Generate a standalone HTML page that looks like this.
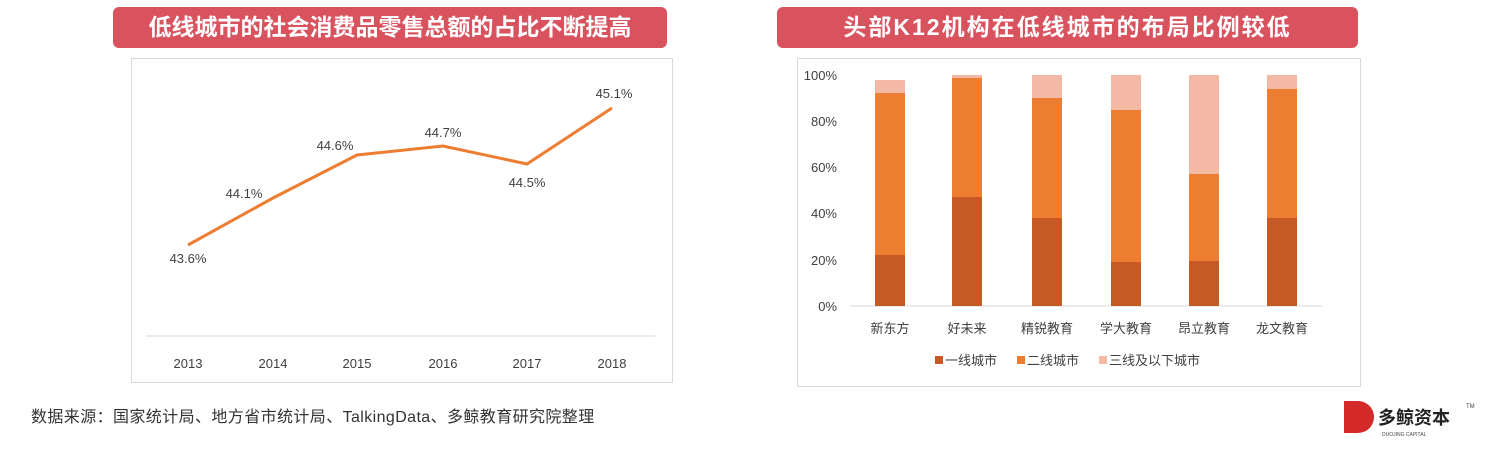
<!DOCTYPE html>
<html><head><meta charset="utf-8"><style>
body{margin:0;width:1499px;height:473px;background:#fff;position:relative;font-family:"Liberation Sans","Noto Sans CJK SC",sans-serif;overflow:hidden}
.ban{position:absolute;background:#d9535f;color:#fff;font-size:23px;font-weight:bold;text-align:center;line-height:40px;border-radius:6px;top:7px;height:41px}
.box{position:absolute;border:1px solid #d9d9d9;background:#fff}
</style></head><body>
<div class="ban" style="left:113px;width:554px">低线城市的社会消费品零售总额的占比不断提高</div>
<div class="ban" style="left:777px;width:581px;letter-spacing:2px">头部K12机构在低线城市的布局比例较低</div>
<div class="box" style="left:131px;top:58px;width:540px;height:323px"></div>
<div class="box" style="left:797px;top:58px;width:562px;height:327px"></div>
<svg width="1499" height="473" style="position:absolute;left:0;top:0" font-family="Liberation Sans,Noto Sans CJK SC,sans-serif" font-size="13" fill="#404040">
<line x1="146" y1="336" x2="655" y2="336" stroke="#d9d9d9"/>
<polyline points="188,245 273,198 357,155 443,146 527,164 612,108" fill="none" stroke="#ed7d31" stroke-width="3"/>
<g text-anchor="middle">
<text x="188" y="263">43.6%</text><text x="244" y="198">44.1%</text><text x="335" y="150">44.6%</text>
<text x="443" y="137">44.7%</text><text x="527" y="187">44.5%</text><text x="614" y="98">45.1%</text>
<text x="188" y="368">2013</text><text x="273" y="368">2014</text><text x="357" y="368">2015</text>
<text x="443" y="368">2016</text><text x="527" y="368">2017</text><text x="612" y="368">2018</text>
</g>
<g text-anchor="end">
<text x="837" y="311">0%</text><text x="837" y="265">20%</text><text x="837" y="218">40%</text>
<text x="837" y="172">60%</text><text x="837" y="126">80%</text><text x="837" y="80">100%</text>
</g>
<line x1="850" y1="306" x2="1322" y2="306" stroke="#d9d9d9"/>
<g>
<rect x="875" y="80" width="30" height="13" fill="#f4b9a5"/><rect x="875" y="93" width="30" height="162" fill="#ed7d31"/><rect x="875" y="255" width="30" height="51" fill="#c55a24"/>
<rect x="952" y="75" width="30" height="3" fill="#f4b9a5"/><rect x="952" y="78" width="30" height="119" fill="#ed7d31"/><rect x="952" y="197" width="30" height="109" fill="#c55a24"/>
<rect x="1032" y="75" width="30" height="23" fill="#f4b9a5"/><rect x="1032" y="98" width="30" height="120" fill="#ed7d31"/><rect x="1032" y="218" width="30" height="88" fill="#c55a24"/>
<rect x="1111" y="75" width="30" height="35" fill="#f4b9a5"/><rect x="1111" y="110" width="30" height="152" fill="#ed7d31"/><rect x="1111" y="262" width="30" height="44" fill="#c55a24"/>
<rect x="1189" y="75" width="30" height="99" fill="#f4b9a5"/><rect x="1189" y="174" width="30" height="87" fill="#ed7d31"/><rect x="1189" y="261" width="30" height="45" fill="#c55a24"/>
<rect x="1267" y="75" width="30" height="14" fill="#f4b9a5"/><rect x="1267" y="89" width="30" height="129" fill="#ed7d31"/><rect x="1267" y="218" width="30" height="88" fill="#c55a24"/>
</g>
<g text-anchor="middle">
<text x="890" y="333">新东方</text><text x="967" y="333">好未来</text><text x="1047" y="333">精锐教育</text>
<text x="1126" y="333">学大教育</text><text x="1204" y="333">昂立教育</text><text x="1282" y="333">龙文教育</text>
</g>
<rect x="935" y="356" width="8" height="8" fill="#c55a24"/><text x="945" y="365">一线城市</text>
<rect x="1017" y="356" width="8" height="8" fill="#ed7d31"/><text x="1027" y="365">二线城市</text>
<rect x="1099" y="356" width="8" height="8" fill="#f4b9a5"/><text x="1109" y="365">三线及以下城市</text>
<text x="31" y="422" font-size="16" letter-spacing="0.4" fill="#333">数据来源：国家统计局、地方省市统计局、TalkingData、多鲸教育研究院整理</text>
<path d="M1344,401 h14 a16,16 0 0 1 0,32 h-14z" fill="#d42a2a"/>
<text x="1378" y="424" font-size="18" font-weight="bold" fill="#222">多鲸资本</text>
<text x="1382" y="436" font-size="5" fill="#444">DUOJING CAPITAL</text>
<text x="1466" y="408" font-size="6" fill="#444">TM</text>
</svg>
</body></html>
